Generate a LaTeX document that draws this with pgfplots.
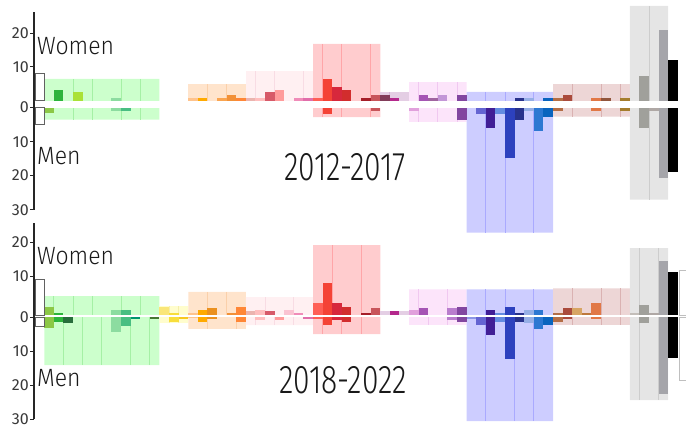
\documentclass[border=0pt]{standalone}
\usepackage{pgfplots}
\pgfplotsset{compat=1.18}
\usepackage{pgfplotstable}
\usepackage{graphicx}
\usepackage{fontspec}
\setmainfont{Fira Sans Light}
\newfontfamily\tickfont{Fira Sans}

% one colour per category slot
\definecolor{c0}{RGB}{140,200,70}  \definecolor{c1}{RGB}{45,180,60}   \definecolor{c2}{RGB}{40,110,60}
\definecolor{c3}{RGB}{170,225,55}  \definecolor{c4}{RGB}{255,255,255} \definecolor{c5}{RGB}{255,255,255}
\definecolor{c6}{RGB}{255,255,255} \definecolor{c7}{RGB}{140,220,160} \definecolor{c8}{RGB}{72,190,130}
\definecolor{c9}{RGB}{0,150,110}   \definecolor{c10}{RGB}{255,255,255} \definecolor{c11}{RGB}{70,120,50}
\definecolor{c12}{RGB}{250,230,120} \definecolor{c13}{RGB}{248,222,60} \definecolor{c14}{RGB}{248,200,30}
\definecolor{c15}{RGB}{255,195,140} \definecolor{c16}{RGB}{255,170,0}  \definecolor{c17}{RGB}{235,145,30}
\definecolor{c18}{RGB}{250,165,80}  \definecolor{c19}{RGB}{242,145,55} \definecolor{c20}{RGB}{255,135,55}
\definecolor{c21}{RGB}{235,180,175} \definecolor{c22}{RGB}{255,190,190} \definecolor{c23}{RGB}{215,90,105}
\definecolor{c24}{RGB}{255,155,155} \definecolor{c25}{RGB}{250,195,210} \definecolor{c26}{RGB}{240,140,185}
\definecolor{c27}{RGB}{225,110,170} \definecolor{c28}{RGB}{255,95,85}   \definecolor{c29}{RGB}{244,67,54}
\definecolor{c30}{RGB}{215,40,60}   \definecolor{c31}{RGB}{210,45,45}   \definecolor{c32}{RGB}{255,255,255}
\definecolor{c33}{RGB}{165,30,40}   \definecolor{c34}{RGB}{200,85,90}   \definecolor{c35}{RGB}{130,60,90}
\definecolor{c36}{RGB}{180,40,140}  \definecolor{c37}{RGB}{255,255,255} \definecolor{c38}{RGB}{225,160,220}
\definecolor{c39}{RGB}{165,85,180}  \definecolor{c40}{RGB}{160,100,160} \definecolor{c41}{RGB}{195,150,215}
\definecolor{c42}{RGB}{185,125,205} \definecolor{c43}{RGB}{130,70,160}  \definecolor{c44}{RGB}{140,150,230}
\definecolor{c45}{RGB}{100,100,210} \definecolor{c46}{RGB}{65,30,150}   \definecolor{c47}{RGB}{100,140,225}
\definecolor{c48}{RGB}{45,65,190}   \definecolor{c49}{RGB}{40,50,140}   \definecolor{c50}{RGB}{150,175,230}
\definecolor{c51}{RGB}{45,120,210}  \definecolor{c52}{RGB}{10,100,190}  \definecolor{c53}{RGB}{180,110,70}
\definecolor{c54}{RGB}{170,75,60}   \definecolor{c55}{RGB}{215,165,100} \definecolor{c56}{RGB}{190,120,60}
\definecolor{c57}{RGB}{225,120,70}  \definecolor{c58}{RGB}{145,85,60}   \definecolor{c59}{RGB}{255,255,255}
\definecolor{c60}{RGB}{165,125,45}  \definecolor{c61}{RGB}{195,190,185} \definecolor{c62}{RGB}{160,160,155}
\definecolor{c63}{RGB}{175,168,165} \definecolor{c64}{RGB}{165,165,170} \definecolor{c65}{RGB}{0,0,0}

% group backgrounds and their dividers
\definecolor{bgreen}{RGB}{204,255,204}  \definecolor{dgreen}{RGB}{165,240,165}
\definecolor{byellow}{RGB}{255,253,205} \definecolor{dyellow}{RGB}{245,238,170}
\definecolor{borange}{RGB}{255,228,204} \definecolor{dorange}{RGB}{250,208,170}
\definecolor{bpink}{RGB}{255,240,242}   \definecolor{dpink}{RGB}{248,220,228}
\definecolor{bred}{RGB}{255,204,206}    \definecolor{dred}{RGB}{255,165,168}
\definecolor{bmauve}{RGB}{228,206,228}  \definecolor{dmauve}{RGB}{212,180,212}
\definecolor{blav}{RGB}{252,228,250}    \definecolor{dlav}{RGB}{240,200,240}
\definecolor{bblue}{RGB}{205,205,255}   \definecolor{dblue}{RGB}{170,170,255}
\definecolor{bbrown}{RGB}{237,214,214}  \definecolor{dbrown}{RGB}{218,178,178}
\definecolor{bgray}{RGB}{229,229,229}   \definecolor{dgray}{RGB}{205,205,205}

% k = slot, tw/tm = 2012-2017 women/men, bw/bm = 2018-2022 women/men
\pgfplotstableread{
k  tw   tm   bw   bm
0  0    1.7  2.35 3.06
1  3.1  0    0.6  1.3
2  0    0    0    1.6
3  2.56 0    0    0
4  0    0    0    0
5  0    0    0    0
6  0    0    0    0
7  0.7  0.95 1.5  4.2
8  0    0.95 1.5  2.5
9  0    0    0    0.4
10 0    0    0    0
11 0    0    0    0.4
12 0    0    2.35 0
13 0    0    0.6  1.4
14 0    0    0    0.4
15 0.8  0    0.6  0.3
16 0.8  0    1.5  1.4
17 0    0    2.06 0.5
18 0.8  0    0    0
19 1.7  0    0.6  0
20 0.8  0    2.35 1.4
21 0.8  0    1.2  0
22 0.8  0    1.5  0.8
23 2.6  0    1.2  0
24 3.1  0    0    0.8
25 0    0    1.5  0
26 0.8  0    0.6  0
27 0.8  0    0    0.5
28 0.8  0    3.5  0.5
29 6.4  1.9  9.4  2.3
30 4.0  0    3.5  0.8
31 3.1  0    2.35 1.4
32 0    0    0    0
33 0.8  0    0.6  0
34 1.7  1.0  2.06 0
35 1.7  0    0    0
36 0.8  0    1.2  0
37 0    0    0    0
38 0    0.95 1.5  0
39 1.7  0    2.06 0
40 0.8  0    0    0
41 1.7  0    0    0
42 0    0    2.06 0.7
43 1.7  3.6  2.35 1.3
44 0    0    0    0.5
45 0    1.8  0    2.3
46 0    5.9  1.5  5.2
47 0    1.8  0.6  1.4
48 0    14.8 2.35 12.3
49 0.8  3.6  0.6  1.4
50 0.8  0.95 1.5  1.6
51 0    6.8  1.5  3.4
52 0.8  2.7  0    2.3
53 0.8  0.95 0.6  1.4
54 1.7  0    2.06 0.5
55 0    0    2.06 0
56 0    0    0.6  0
57 0.8  0.95 3.5  0.5
58 0.8  0    0    0
59 0    0    0    0
60 0.8  0.95 0    0
61 0    0    0.6  0
62 7.3  5.9  2.9  1.7
63 0    0.95 0.6  0
64 20.8 20.6 15.9 22.6
65 12.0 18.9 12.6 11.9
}\slots

\pgfplotsset{
  gap axis/.style={
    scale only axis, width=651.9pt,
    xmin=-1.57, xmax=66.34,
    axis x line=none, axis y line*=left,
    axis line style={-, draw=black!85, line width=1.3pt},
    ytick pos=left, tick align=outside, major tick length=4pt,
    tick style={draw=black!85, line width=0.9pt},
    yticklabels={30,20,10,0,10,20},
    yticklabel style={font=\tickfont\fontsize{16}{16}\selectfont, text=black!78, inner sep=1pt},
    clip=false,
  },
  slotbar/.style={ybar, bar width=1, bar shift=0pt, draw=none,
    x filter/.expression={abs(x-#1)<0.1 ? x : nan}},
  band/.style={ybar, bar width=#1, bar shift=0pt, draw=none},
  divider/.style={ycomb, line width=0.9pt},
  gbox/.style={draw=black!62, fill=white, line width=0.8pt},
}

\begin{document}
\begin{tikzpicture}
\useasboundingbox (0pt,0pt) rectangle (686pt,-430pt);

% ---------- 2012-2017 ----------
\begin{axis}[gap axis, at={(34pt,-210pt)}, anchor=south west, height=198pt,
  ymin=-31.15, ymax=27.1, ytick={-31.1,-21,-11.1,-0.95,11,20.8},
  y filter/.expression={y>0 ? y+1.0 : (y<0 ? y-1.0 : 0)}]
\addplot[band=12, fill=bgreen] coordinates {(5.5,6.4) (5.5,-3.6)};
\addplot[band=6, fill=borange] coordinates {(17.5,4.9)};
\addplot[band=7, fill=bpink] coordinates {(24,8.7)};
\addplot[band=7, fill=bred] coordinates {(31,16.7) (31,-2.8)};
\addplot[band=3, fill=bmauve] coordinates {(36,2.6)};
\addplot[band=6, fill=blav] coordinates {(40.5,5.5) (40.5,-4.2)};
\addplot[band=9, fill=bblue] coordinates {(48,2.6) (48,-36.8)};
\addplot[band=8, fill=bbrown] coordinates {(56.5,4.9) (56.5,-2.7)};
\addplot[band=4, fill=bgray] coordinates {(62.5,27.9) (62.5,-27.1)};
\addplot[divider, dgreen] coordinates {(2.5,6.4) (4.5,6.4) (7.5,6.4) (9.5,6.4) (2.5,-3.6) (4.5,-3.6) (7.5,-3.6) (9.5,-3.6)};
\addplot[divider, dorange] coordinates {(16.5,4.9) (18.5,4.9)};
\addplot[divider, dpink] coordinates {(21.5,8.7) (23.5,8.7) (26.5,8.7)};
\addplot[divider, dred] coordinates {(28.5,16.7) (30.5,16.7) (33.5,16.7) (28.5,-2.8) (30.5,-2.8) (33.5,-2.8)};
\addplot[divider, dmauve] coordinates {(35.5,2.6)};
\addplot[divider, dlav] coordinates {(38.5,5.5) (40.5,5.5) (42.5,5.5) (38.5,-4.2) (40.5,-4.2) (42.5,-4.2)};
\addplot[divider, dblue] coordinates {(45.5,2.6) (47.5,2.6) (50.5,2.6) (45.5,-36.8) (47.5,-36.8) (50.5,-36.8)};
\addplot[divider, dbrown] coordinates {(54.5,4.9) (57.5,4.9) (59.5,4.9) (54.5,-2.7) (57.5,-2.7) (59.5,-2.7)};
\addplot[divider, dgray] coordinates {(62.5,27.9) (62.5,-27.1)};
\pgfplotsinvokeforeach{0,...,65}{
  \addplot[slotbar=#1, fill=c#1] table[x=k, y=tw] {\slots};
  \addplot[slotbar=#1, fill=c#1] table[x=k, y expr=-\thisrow{tm}] {\slots};
}
\addplot[white, line width=6.8pt] coordinates {(-1.5,0) (66.6,0)};
\addplot[gbox] coordinates {(-1.38,0.001) (-1.38,8.06) (-0.52,8.06) (-0.52,0.001)} -- cycle;
\addplot[gbox] coordinates {(-1.38,-0.001) (-1.38,-5.1) (-0.52,-5.1) (-0.52,-0.001)} -- cycle;
\end{axis}

% ---------- 2018-2022 ----------
\begin{axis}[gap axis, at={(34pt,-419.3pt)}, anchor=south west, height=196.2pt,
  ymin=-30.3, ymax=27.4, ytick={-30.2,-20.25,-10.4,-0.4,11.66,21.66},
  y filter/.expression={y>0 ? y+0.34 : (y<0 ? y-0.34 : 0)}]
\addplot[band=12, fill=bgreen] coordinates {(5.5,5.6) (5.5,-14.0)};
\addplot[band=3, fill=byellow] coordinates {(13,2.65) (13,-1.6)};
\addplot[band=6, fill=borange] coordinates {(17.5,6.8) (17.5,-3.4)};
\addplot[band=7, fill=bpink] coordinates {(24,5.3) (24,-2.3)};
\addplot[band=7, fill=bred] coordinates {(31,20.6) (31,-4.9)};
\addplot[band=3, fill=bmauve] coordinates {(36,1.2)};
\addplot[band=6, fill=blav] coordinates {(40.5,7.6) (40.5,-2.2)};
\addplot[band=9, fill=bblue] coordinates {(48,7.6) (48,-30.5)};
\addplot[band=8, fill=bbrown] coordinates {(56.5,7.9) (56.5,-2.2)};
\addplot[band=4, fill=bgray] coordinates {(62.5,19.7) (62.5,-24.3)};
\addplot[divider, dgreen] coordinates {(0.5,5.6) (2.5,5.6) (4.5,5.6) (7.5,5.6) (9.5,5.6) (1.5,-14.0) (3.5,-14.0) (5.5,-14.0) (8.5,-14.0) (10.5,-14.0)};
\addplot[divider, dyellow] coordinates {(12.5,2.65) (13.5,2.65) (12.5,-1.6) (13.5,-1.6)};
\addplot[divider, dorange] coordinates {(16.5,6.8) (18.5,6.8) (16.5,-3.4) (19.5,-3.4)};
\addplot[divider, dpink] coordinates {(22.5,5.3) (25.5,5.3) (21.5,-2.3) (23.5,-2.3) (25.5,-2.3)};
\addplot[divider, dred] coordinates {(29.5,20.6) (32.5,20.6) (28.5,-4.9) (30.5,-4.9) (32.5,-4.9)};
\addplot[divider, dlav] coordinates {(38.5,7.6) (41.5,7.6) (39.5,-2.2) (41.5,-2.2)};
\addplot[divider, dblue] coordinates {(45.5,7.6) (47.5,7.6) (50.5,7.6) (45.5,-30.5) (48.5,-30.5) (50.5,-30.5)};
\addplot[divider, dbrown] coordinates {(54.5,7.9) (57.5,7.9) (59.5,7.9) (54.5,-2.2) (57.5,-2.2) (59.5,-2.2)};
\addplot[divider, dgray] coordinates {(61.5,19.7) (63.5,19.7) (61.5,-24.3) (63.5,-24.3)};
\pgfplotsinvokeforeach{0,...,65}{
  \addplot[slotbar=#1, fill=c#1] table[x=k, y=bw] {\slots};
  \addplot[slotbar=#1, fill=c#1] table[x=k, y expr=-\thisrow{bm}] {\slots};
}
\addplot[white, line width=2.3pt] coordinates {(-1.5,0) (66.6,0)};
\addplot[gbox] coordinates {(-1.38,0.001) (-1.38,10.5) (-0.52,10.5) (-0.52,0.001)} -- cycle;
\addplot[gbox] coordinates {(-1.38,-0.001) (-1.38,-2.6) (-0.52,-2.6) (-0.52,-0.001)} -- cycle;
\addplot[gbox, draw=black!25] coordinates {(65.65,0.001) (65.65,13.2) (66.65,13.2) (66.65,0.001)} -- cycle;
\addplot[gbox, draw=black!25] coordinates {(65.65,-0.001) (65.65,-18.4) (66.65,-18.4) (66.65,-0.001)} -- cycle;
\end{axis}

% panel texts
\node[anchor=west, inner sep=0pt, text=black!90] at (37pt,-46pt) {\scalebox{0.92}[1]{\fontsize{25}{25}\selectfont Women}};
\node[anchor=west, inner sep=0pt, text=black!90] at (37pt,-156pt) {\scalebox{0.92}[1]{\fontsize{25}{25}\selectfont Men}};
\node[inner sep=0pt, text=black!90] at (345pt,-167pt) {\scalebox{0.75}[1]{\fontsize{40}{40}\selectfont 2012-2017}};
\node[anchor=west, inner sep=0pt, text=black!90] at (37pt,-256pt) {\scalebox{0.92}[1]{\fontsize{25}{25}\selectfont Women}};
\node[anchor=west, inner sep=0pt, text=black!90] at (37pt,-378pt) {\scalebox{0.92}[1]{\fontsize{25}{25}\selectfont Men}};
\node[inner sep=0pt, text=black!90] at (343pt,-380pt) {\scalebox{0.75}[1]{\fontsize{40}{40}\selectfont 2018-2022}};
\end{tikzpicture}
\end{document}
